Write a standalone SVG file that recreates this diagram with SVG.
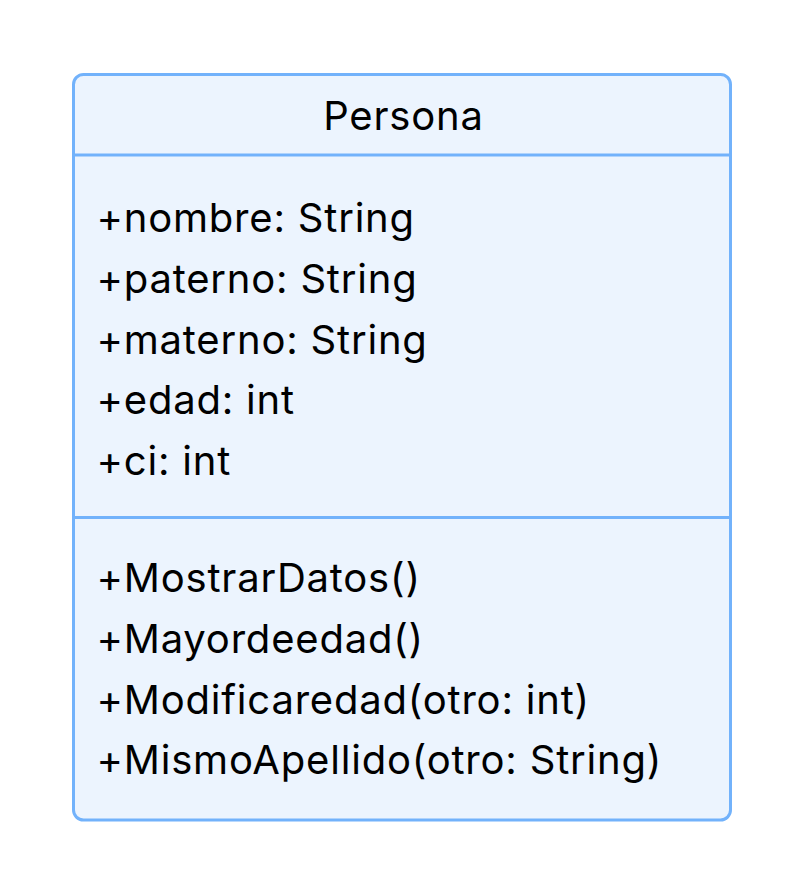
<svg xmlns="http://www.w3.org/2000/svg" width="808" height="896" viewBox="0 0 808 896">
<style>
.box{fill:#ecf4fe;stroke:#72b2fb;stroke-width:3}
.div{stroke:#72b2fb;stroke-width:3}
text{font-family:Inter,"Noto Sans","Liberation Sans",sans-serif;font-size:40px;fill:#000;letter-spacing:0.8px}
.t{text-anchor:middle}
</style>
<rect width="808" height="896" fill="#ffffff"/>
<g id="Persona">
<rect class="box" x="73.5" y="74.5" width="657" height="745.5" rx="10"/>
<line class="div" x1="73.5" y1="155" x2="730.5" y2="155"/>
<line class="div" x1="73.5" y1="517.5" x2="730.5" y2="517.5"/>
<text class="t" x="403.5" y="129.5">Persona</text>
<text x="96.5" y="231.5">+nombre: String</text>
<text x="96.5" y="292.5">+paterno: String</text>
<text x="96.5" y="353.5">+materno: String</text>
<text x="96.5" y="414">+edad: int</text>
<text x="96.5" y="475">+ci: int</text>
<text x="96.5" y="591.5">+MostrarDatos()</text>
<text x="96.5" y="652.5">+Mayordeedad()</text>
<text x="96.5" y="713.5">+Modificaredad(otro: int)</text>
<text x="96.5" y="774.3">+MismoApellido(otro: String)</text>
</g>
<g id="connectors"></g>
</svg>
